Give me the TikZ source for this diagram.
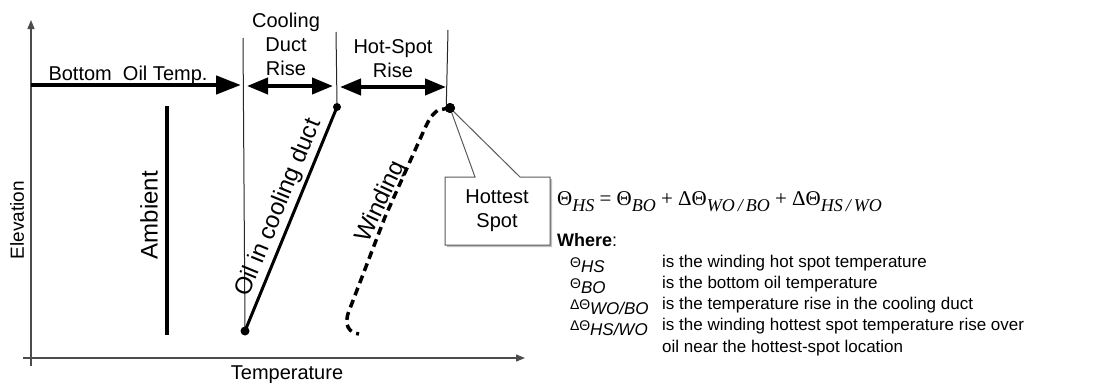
\documentclass[tikz,border=0pt]{standalone}
\usepackage{fontspec}
\setmainfont{Liberation Sans}
\newfontfamily\eqfont{Liberation Serif}
\usetikzlibrary{arrows.meta}
\newcommand{\eqsub}[1]{\raisebox{-0.3em}{\fontsize{18}{18}\selectfont\itshape #1}}
\newcommand{\defsym}[2]{{\fontsize{14}{14}\selectfont #1}\raisebox{-0.3em}{\fontsize{17}{17}\selectfont\itshape #2}}
\tikzset{
  axis/.style={draw=black!70, line width=1.3pt, -{Triangle[length=9pt,width=7pt]}},
  thinv/.style={draw=black!85, line width=1pt},
  bigarrow/.style={draw=black, line width=4.5pt, -{Triangle[length=25pt,width=18pt]}},
  dblarrow/.style={draw=black, line width=4pt, {Triangle[length=21pt,width=16pt]}-{Triangle[length=21pt,width=16pt]}},
  lbl/.style={font=\fontsize{20}{24}\selectfont, align=center, inner sep=0pt},
  biglbl/.style={font=\fontsize{24}{24}\selectfont, inner sep=0pt},
  dot/.style={circle, fill=black, inner sep=0pt, minimum size=#1},
  deftext/.style={font=\fontsize{17}{17}\selectfont, anchor=base west, inner sep=0pt},
}
\begin{document}
\begin{tikzpicture}[x=1pt, y=-1pt]
\useasboundingbox (0,0) rectangle (1093,383);
% axes
\coordinate (origin) at (31,358);
\coordinate (ytop) at (31,20);
\coordinate (xleft) at (23,358);
\coordinate (xright) at (525,358);
\coordinate (ybot) at (31,366);
\draw[draw=black!70, line width=1.3pt] (ybot) -- (origin);
\draw[axis] (origin) -- (ytop);
\draw[axis] (xleft) -- (xright);
\node[lbl, rotate=90, font=\fontsize{19}{19}\selectfont] (elev) at (17,220) {Elevation};
\node[lbl, anchor=base] (temp) at (287,379) {Temperature};
% dots
\node[dot=9pt] (bot) at (245,331) {};
\node[dot=8pt] (topoil) at (337,107) {};
\node[dot=10pt] (hs) at (450,108) {};
% vertical thin lines
\coordinate (v1t) at (243,38);
\coordinate (v2t) at (336,32);
\coordinate (v3t) at (448,30);
\draw[thinv] (v1t) -- (bot.center);
\draw[thinv] (v2t) -- (topoil.north);
\draw[thinv] (v3t) -- (hs.north west);
% bottom oil temp
\coordinate (bo1) at (31,85);
\coordinate (bo2) at (241,85);
\draw[bigarrow] (bo1) -- (bo2);
\node[lbl, anchor=base] (botoil) at (128,80) {Bottom\ \ Oil Temp.};
% cooling duct rise
\coordinate (cd1) at (247,86);
\coordinate (cd2) at (333,86);
\draw[dblarrow] (cd1) -- (cd2);
\node[lbl, anchor=base] (cdr) at (286,75) {Cooling\\Duct\\Rise};
% hot spot rise
\coordinate (hr1) at (340,87);
\coordinate (hr2) at (446,87);
\draw[dblarrow] (hr1) -- (hr2);
\node[lbl, anchor=base] (hsr) at (393,77) {Hot-Spot\\Rise};
% ambient
\coordinate (amb1) at (167,106);
\coordinate (amb2) at (167,335);
\draw[line width=4.5pt] (amb1) -- (amb2);
\node[biglbl, rotate=90] (ambl) at (149,215) {Ambient};
% oil in cooling duct
\draw[line width=3pt] (bot.center) -- (topoil.center);
\node[biglbl, rotate=67.7] (oill) at (279,208) {Oil in cooling duct};
% winding
\draw[line width=3.5pt, dash pattern=on 8pt off 5pt] (hs.center) -- (438,110) .. controls (431,116) .. (425,128) -- (385,217) -- (349,311) .. controls (343,326) and (350,333) .. (359,334);
\node[biglbl, rotate=65] (windl) at (381,202) {Winding};
% hottest spot callout
\coordinate (cb1) at (445,177);
\coordinate (cb2) at (550,245);
\fill[black!25] (447,179) -- (477,179) -- (452,112) -- (522,179) -- (552,179) -- (552,247) -- (447,247) -- cycle;
\filldraw[fill=white, draw=black!65, line width=1pt] (cb1) -- (475,177) -- (hs.center) -- (520,177) -- (550,177) -- (cb2 |- 0,245) -- (cb1 |- 0,245) -- cycle;
\node[dot=10pt] at (hs.center) {};
\node[lbl] (hottest) at (497,211) {Hottest\\Spot};
% equation
\node[anchor=base west, inner sep=0pt, font=\fontsize{21}{21}\eqfont] (eq) at (557,205)
  {Θ\eqsub{HS} = Θ\eqsub{BO} + ΔΘ\eqsub{WO\,/\,BO} + ΔΘ\eqsub{HS\,/\,WO}};
\node[anchor=base west, inner sep=0pt, font=\fontsize{18}{18}\selectfont] (where) at (557,246) {\textbf{Where}:};
% definitions
\node[deftext] (s1) at (570,267) {\defsym{Θ}{HS}};
\node[deftext] (s2) at (570,288) {\defsym{Θ}{BO}};
\node[deftext] (s3) at (570,309) {\defsym{ΔΘ}{WO/BO}};
\node[deftext] (s4) at (570,330) {\defsym{ΔΘ}{HS/WO}};
\node[deftext] (d1) at (662,267) {is the winding hot spot temperature};
\node[deftext] (d2) at (662,288) {is the bottom oil temperature};
\node[deftext] (d3) at (662,309) {is the temperature rise in the cooling duct};
\node[deftext] (d4) at (662,330) {is the winding hottest spot temperature rise over};
\node[deftext] (d5) at (662,352) {oil near the hottest-spot location};
\end{tikzpicture}
\end{document}
